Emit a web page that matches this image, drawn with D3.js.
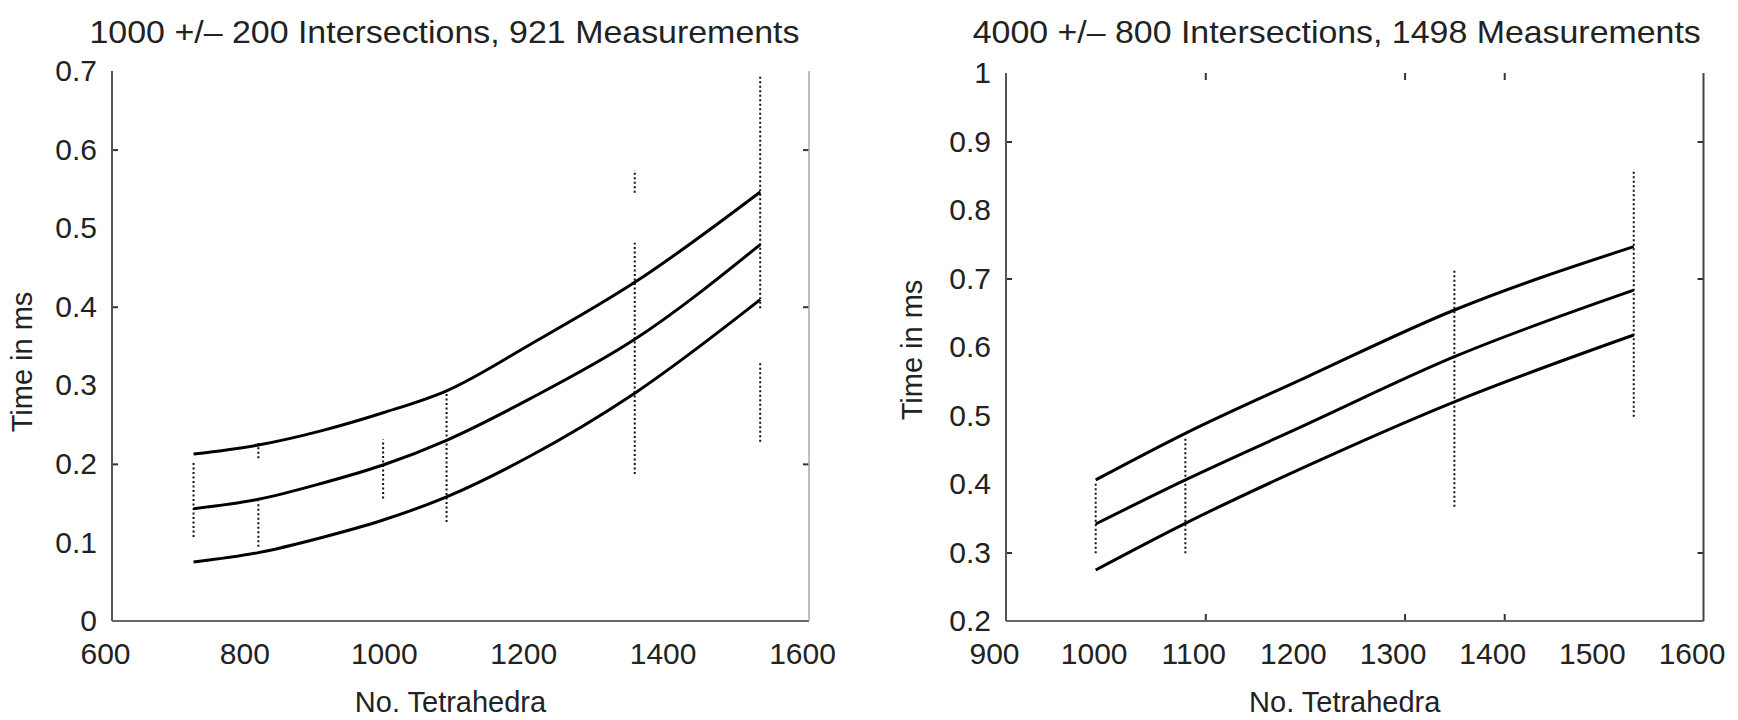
<!DOCTYPE html>
<html>
<head>
<meta charset="utf-8">
<script src="https://cdn.jsdelivr.net/npm/d3@7"></script>
<style>
  body { margin: 0; background: #fff; }
  svg { display: block; font-family: "Liberation Sans", Arial, sans-serif; }
</style>
</head>
<body>
<div id="chart"></div>
<script>
// ---- data ----
var left_title = "1000 +/\u2013 200 Intersections, 921 Measurements";
var right_title = "4000 +/\u2013 800 Intersections, 1498 Measurements";
var x_label = "No. Tetrahedra";
var y_label = "Time in ms";

// left panel: mean +/- spread curves
var left_x     = [717, 810, 900, 989, 1080, 1200, 1350, 1530];
var left_upper = [0.2125, 0.224, 0.242, 0.265, 0.293, 0.352, 0.431, 0.546];
var left_mean  = [0.143, 0.155, 0.175, 0.1985, 0.230, 0.283, 0.3585, 0.479];
var left_lower = [0.075, 0.087, 0.106, 0.1285, 0.158, 0.210, 0.290, 0.409];
// dotted measurement ranges [x, lo, hi]
var left_bars = [[717, 0.107, 0.203], [810, 0.207, 0.2265], [810, 0.0946, 0.152],
                 [989, 0.156, 0.231], [1080, 0.126, 0.29], [1350, 0.545, 0.574],
                 [1350, 0.187, 0.4815], [1530, 0.398, 0.693], [1530, 0.228, 0.330]];
var left_xticks = [600, 800, 1000, 1200, 1400, 1600];
var left_yticks = [0, 0.1, 0.2, 0.3, 0.4, 0.5, 0.6, 0.7];
var left_ymarks = [0.2, 0.4, 0.6];
var left_xmarks = [];

// right panel
var right_x     = [990, 1080, 1200, 1350, 1530];
var right_upper = [0.406, 0.474, 0.555, 0.654, 0.7465];
var right_mean  = [0.3416, 0.406, 0.486, 0.5858, 0.683];
var right_lower = [0.2745, 0.3426, 0.425, 0.52, 0.6175];
var right_bars = [[990, 0.2988, 0.4034], [1080, 0.2988, 0.4667],
                  [1350, 0.3669, 0.7149], [1530, 0.498, 0.856]];
var right_xticks = [900, 1000, 1100, 1200, 1300, 1400, 1500, 1600];
var right_yticks = [0.2, 0.3, 0.4, 0.5, 0.6, 0.7, 0.8, 0.9, 1];
var right_ymarks = [0.3, 0.7, 0.9];
var right_xmarks = [1100, 1300, 1400];

var W = 1738, H = 720;
var svg = d3.select("#chart").append("svg").attr("width", W).attr("height", H);

function panel(opt) {
  var x = d3.scaleLinear().domain(opt.xdom).range([opt.x0, opt.x1]);
  var y = d3.scaleLinear().domain(opt.ydom).range([opt.y0, opt.y1]);
  var g = svg.append("g");

  // title
  g.append("text")
   .attr("x", (opt.x0 + opt.x1) / 2 + opt.titleShift).attr("y", 43)
   .attr("text-anchor", "middle").attr("font-size", 32)
   .attr("textLength", opt.titleLen).attr("lengthAdjust", "spacingAndGlyphs")
   .attr("fill", "#222").text(opt.title);

  // tick labels (no tick marks)
  var xa = g.append("g").attr("transform", `translate(0,${opt.y0})`)
            .call(d3.axisBottom(x).tickValues(opt.xticks).tickSize(0).tickPadding(22)
                  .tickFormat(d3.format("d")));
  xa.select(".domain").remove();
  xa.selectAll("text").attr("font-size", 30).attr("fill", "#222")
    .attr("font-family", "Liberation Sans, Arial, sans-serif").attr("dx", opt.xlabShift);

  var ya = g.append("g").attr("transform", `translate(${opt.x0},0)`)
            .call(d3.axisLeft(y).tickValues(opt.yticks).tickSize(0).tickPadding(15)
                  .tickFormat(d3.format("~g")));
  ya.select(".domain").remove();
  ya.selectAll("text").attr("font-size", 30).attr("fill", "#222")
    .attr("font-family", "Liberation Sans, Arial, sans-serif");

  // inward tick marks
  [["left", opt.x0], ["right", opt.x1]].forEach(function (s) {
    var ax = s[0] === "left" ? d3.axisLeft(y).tickSize(-6) : d3.axisRight(y).tickSize(-6);
    var m = g.append("g").attr("transform", `translate(${s[1]},0)`)
             .call(ax.tickValues(opt.ymarks).tickFormat(""));
    m.select(".domain").remove();
    m.selectAll("line").attr("stroke", "#333").attr("stroke-width", 2);
  });
  [["bottom", opt.y0], ["top", opt.y1]].forEach(function (s) {
    var ax = s[0] === "bottom" ? d3.axisBottom(x).tickSize(-7) : d3.axisTop(x).tickSize(-7);
    var m = g.append("g").attr("transform", `translate(0,${s[1]})`)
             .call(ax.tickValues(opt.xmarks).tickFormat(""));
    m.select(".domain").remove();
    m.selectAll("line").attr("stroke", "#333").attr("stroke-width", 2);
  });

  // box lines (left, bottom, right)
  g.append("line").attr("x1", opt.x0).attr("x2", opt.x0).attr("y1", opt.y1).attr("y2", opt.y0)
   .attr("stroke", "#555").attr("stroke-width", 2);
  g.append("line").attr("x1", opt.x0).attr("x2", opt.x1).attr("y1", opt.y0).attr("y2", opt.y0)
   .attr("stroke", "#666").attr("stroke-width", 2.2);
  g.append("line").attr("x1", opt.x1).attr("x2", opt.x1).attr("y1", opt.y1).attr("y2", opt.y0)
   .attr("stroke", opt.rightColor).attr("stroke-width", opt.rightWidth);

  // dotted measurement ranges
  g.selectAll(".bar").data(opt.bars).enter().append("line")
   .attr("x1", d => x(d[0])).attr("x2", d => x(d[0]))
   .attr("y1", d => y(d[1])).attr("y2", d => y(d[2]))
   .attr("stroke", "#111").attr("stroke-width", 2)
   .attr("stroke-dasharray", "2,2.5");

  // curves
  var line = d3.line().x(d => x(d[0])).y(d => y(d[1])).curve(d3.curveMonotoneX);
  [opt.upper, opt.mean, opt.lower].forEach(function (s) {
    g.append("path").datum(opt.xs.map((v, i) => [v, s[i]]))
     .attr("d", line).attr("fill", "none").attr("stroke", "#000")
     .attr("stroke-width", 3);
  });

  // axis titles
  g.append("text").attr("x", (opt.x0 + opt.x1) / 2 + opt.xtitleShift).attr("y", 712)
   .attr("text-anchor", "middle").attr("font-size", 29).attr("fill", "#222").text(x_label);
  g.append("text")
   .attr("transform", `translate(${opt.ytitleX},${opt.ytitleY}) rotate(-90)`)
   .attr("text-anchor", "middle").attr("font-size", 29).attr("fill", "#222").text(y_label);
}

panel({
  title: left_title, titleLen: 710, titleShift: -16,
  xdom: [600, 1600], ydom: [0, 0.7], x0: 112, x1: 809, y0: 621, y1: 71,
  xticks: left_xticks, yticks: left_yticks, xmarks: left_xmarks, ymarks: left_ymarks,
  xs: left_x, upper: left_upper, mean: left_mean, lower: left_lower, bars: left_bars,
  xlabShift: -7, rightColor: "#aaa", rightWidth: 1.5,
  xtitleShift: -10, ytitleX: 32, ytitleY: 362
});

panel({
  title: right_title, titleLen: 728, titleShift: -18,
  xdom: [900, 1600], ydom: [0.2, 1], x0: 1006, x1: 1703.5, y0: 621, y1: 73,
  xticks: right_xticks, yticks: right_yticks, xmarks: right_xmarks, ymarks: right_ymarks,
  xs: right_x, upper: right_upper, mean: right_mean, lower: right_lower, bars: right_bars,
  xlabShift: -12, rightColor: "#444", rightWidth: 2,
  xtitleShift: -10, ytitleX: 922, ytitleY: 350
});
</script>
</body>
</html>
